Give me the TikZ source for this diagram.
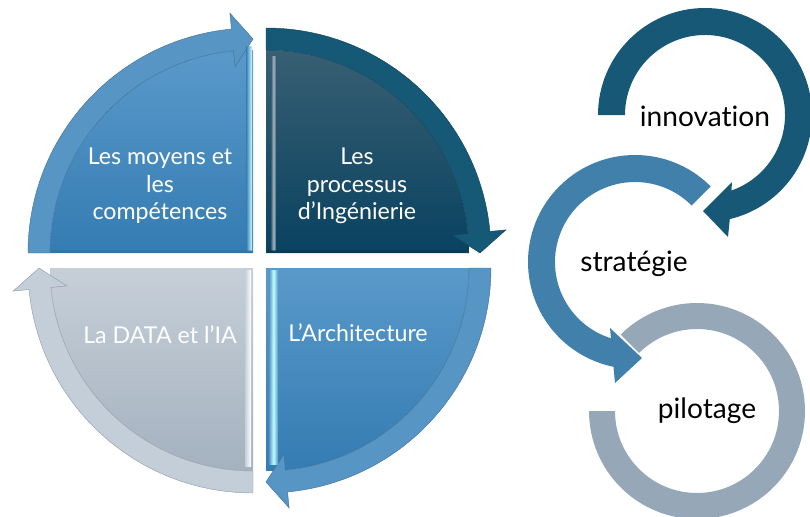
\documentclass[tikz,border=0pt]{standalone}
\usepackage{fontspec}
\setmainfont{Lato}[Ligatures=NoCommon]
\usetikzlibrary{positioning}
\definecolor{midBlue}{RGB}{87,149,197}
\definecolor{midBlueTop}{RGB}{90,153,202}
\definecolor{midBlueLow}{RGB}{52,124,178}
\definecolor{deepTeal}{RGB}{22,89,119}
\definecolor{deepTealTop}{RGB}{56,95,115}
\definecolor{deepTealLow}{RGB}{9,66,96}
\definecolor{paleSlate}{RGB}{196,206,216}
\definecolor{paleSlateTop}{RGB}{198,207,216}
\definecolor{paleSlateLow}{RGB}{164,177,191}
\definecolor{ringInnov}{RGB}{22,88,117}
\definecolor{ringStrat}{RGB}{65,128,170}
\definecolor{ringPilot}{RGB}{150,167,184}

% quarter disc with a curved arrow on its rim
% #1 corner, #2 angle of the arrow tip, #3 rim colour, #4/#5 top/bottom fill
\newcommand{\quarterarrow}[5]{%
  \begin{scope}[shift={#1}]
    \shade[top color=#4, bottom color=#5]
      (0,0) -- (#2+90:203) arc[start angle=#2+90, end angle=#2, radius=203] -- cycle;
    \filldraw[fill=#3, draw=#3!75!black, line width=0.3pt]
      (#2+90:225) arc[start angle=#2+90, end angle=#2+5.5, radius=225]
      -- (#2+5.5:241) -- (#2:214) -- (#2+5.5:187) -- (#2+5.5:203)
      arc[start angle=#2+5.5, end angle=#2+90, radius=203] -- cycle;
  \end{scope}}

\tikzset{
  quadtext/.style={text=white, align=center, font=\fontsize{16.5}{19.5}\selectfont},
  ringtext/.style={text=black, font=\fontsize{20}{23}\selectfont}
}

\begin{document}
\begin{tikzpicture}[x=0.025cm, y=0.025cm]
\useasboundingbox (0,0) rectangle (810,516);

% the four quarters
\quarterarrow{(253,263)}{90}{midBlue}{midBlueTop}{midBlueLow}
\quarterarrow{(266,263)}{0}{deepTeal}{deepTealTop}{deepTealLow}
\quarterarrow{(266,248)}{-90}{midBlue}{midBlueTop}{midBlueLow}
\quarterarrow{(253,248)}{-180}{paleSlate}{paleSlateTop}{paleSlateLow}

% bevel highlights along the inner edges
\shade[left color=midBlueLow, right color=cyan!20!white] (246,266) rectangle (252,470);
\shade[left color=deepTealTop, right color=deepTealTop, middle color=deepTealTop!45!white] (271,266) rectangle (276,460);
\shade[left color=midBlue, right color=midBlue, middle color=cyan!25!white] (269,52) rectangle (278,246);
\shade[left color=paleSlateTop, right color=white] (245,50) rectangle (251,246);
\fill[midBlueLow!85!black, opacity=0.3] (50,263) rectangle (252,266);
\fill[deepTealLow!80!black, opacity=0.5] (267,263) rectangle (466,266);

% labels of the quarters
\node[quadtext] (moyens) at (160,330) {Les moyens et\\les\\compétences};
\node[quadtext] (processus) at (357,330) {Les\\processus\\d’Ingénierie};
\node[quadtext] (archi) at (358,183) {L’Architecture};
\node[quadtext] (data) at (160,181) {La DATA et l’IA};

% three linked rings
\begin{scope}[shift={(705,401)}]
  \fill[ringInnov] (180:107) arc[start angle=180, end angle=-76.6, radius=107]
    -- (23,-122) -- (-2,-96) -- (27,-67) -- (-70.7:80)
    arc[start angle=-70.7, end angle=180, radius=80] -- cycle;
\end{scope}
\begin{scope}[shift={(635,254)}]
  \fill[ringStrat] (45:107) arc[start angle=45, end angle=258.4, radius=107]
    -- (-20,-121) -- (7,-96) -- (-25,-66) -- (252.5:80)
    arc[start angle=252.5, end angle=45, radius=80] -- cycle;
\end{scope}
\begin{scope}[shift={(697,105)}]
  \fill[ringPilot] (135:108) arc[start angle=135, end angle=-180, radius=108]
    -- (180:82) arc[start angle=-180, end angle=135, radius=82] -- cycle;
\end{scope}

\node[ringtext] (innovation) at (705,400) {innovation};
\node[ringtext] (strategie) at (634,252) {stratégie};
\node[ringtext] (pilotage) at (707,105) {pilotage};
\end{tikzpicture}
\end{document}
